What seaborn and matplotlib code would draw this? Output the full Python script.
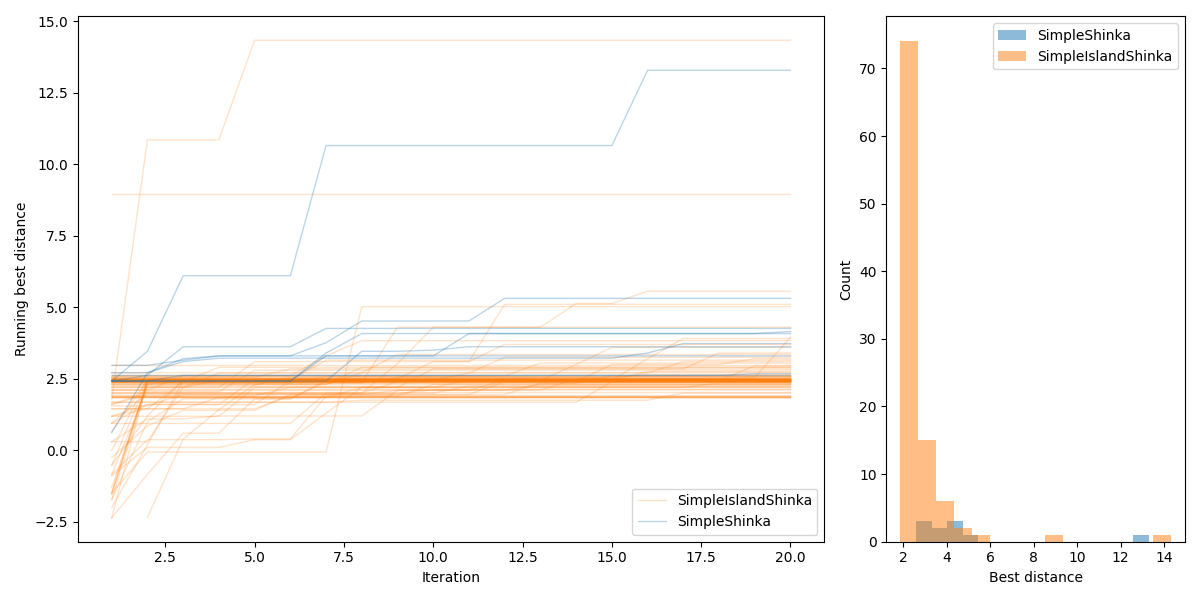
import matplotlib
matplotlib.use("Agg")
import numpy as np
import pandas as pd
import matplotlib.pyplot as plt
import seaborn as sns

ITERATIONS = list(range(1, 21))
METHODS = ["SimpleIslandShinka", "SimpleShinka"]

# Each run: list of (iteration, running-best value) at the iterations where it changes
ISLAND_RUNS = [
    [(1, 1.80), (2, 10.85), (5, 14.33)],
    [(1, 8.95)],
    [(1, -1.49), (2, -0.06), (8, 5.02)],
    [(1, 1.19), (2, 1.60), (5, 2.50), (10, 3.10), (12, 5.10)],
    [(1, 2.38), (9, 4.30), (14, 5.13), (16, 5.56)],
    [(1, 0.95), (2, 2.00), (9, 3.03), (10, 4.30)],
    [(1, 2.45), (16, 3.20), (17, 3.91)],
    [(1, 2.10), (3, 2.60), (7, 3.30), (8, 3.83)],
    [(1, 2.50), (19, 2.55), (20, 3.95)],
    [(1, 0.30), (3, 2.20), (5, 3.10), (12, 3.70)],
    [(1, 2.45), (14, 3.00), (15, 3.60)],
    [(1, 2.97)],
    [(1, 2.71), (9, 3.35)],
    [(1, -2.36), (2, 2.45), (7, 3.15)],
    [(2, -2.34), (3, 0.39), (4, 1.42), (5, 2.30), (8, 2.90)],
    [(1, 2.20), (4, 2.70), (12, 3.25)],
    [(1, 1.60), (2, 2.05), (5, 2.80)],
    [(1, 2.60), (13, 3.05)],
    [(1, -0.52), (2, 1.20), (3, 2.45), (16, 2.75)],
    [(1, 2.45), (11, 2.70), (17, 3.10)],
    [(1, 1.91), (6, 2.20), (10, 2.85), (18, 3.40)],
    [(1, 2.40), (4, 2.90)],
    [(1, -1.72), (2, 1.00), (3, 1.80), (7, 2.45), (19, 2.95)],
    [(1, 2.30), (8, 2.72)],
    [(1, 1.45), (3, 2.40), (15, 3.00), (19, 3.20)],
    [(1, 2.55), (6, 2.85)],
    [(1, 2.38)], [(1, 2.40)], [(1, 2.41)], [(1, 2.42)], [(1, 2.42)],
    [(1, 2.43)], [(1, 2.43)], [(1, 2.44)], [(1, 2.44)], [(1, 2.45)],
    [(1, 2.45)], [(1, 2.45)], [(1, 2.46)], [(1, 2.46)], [(1, 2.46)],
    [(1, 2.47)], [(1, 2.47)], [(1, 2.48)], [(1, 2.48)], [(1, 2.49)],
    [(1, 2.50)], [(1, 2.50)], [(1, 2.51)], [(1, 2.52)], [(1, 2.53)],
    [(1, 2.39)], [(1, 2.41)], [(1, 2.44)], [(1, 2.47)], [(1, 2.49)],
    [(1, -1.49), (2, 2.42)],
    [(1, -1.49), (2, 2.45)],
    [(1, -1.55), (2, 2.40), (10, 2.50)],
    [(1, -1.72), (2, 2.30), (3, 2.46)],
    [(1, -0.84), (2, 2.20), (4, 2.45)],
    [(1, -0.52), (2, 2.44)],
    [(1, -2.36), (2, -0.84), (3, 0.60), (5, 1.80), (7, 2.40)],
    [(1, 0.00), (2, 2.48)],
    [(1, 0.30), (2, 1.10), (4, 1.20), (9, 2.10), (12, 2.45)],
    [(1, 0.65), (2, 2.46)],
    [(1, -0.25), (2, 0.85), (3, 1.40), (6, 1.95), (12, 2.40)],
    [(1, 1.19), (5, 2.20), (11, 2.45)],
    [(1, -1.30), (2, 2.35), (9, 2.55)],
    [(1, -0.84), (2, 0.37), (5, 0.40), (7, 1.90), (10, 2.30)],
    [(1, 0.95), (2, 1.60), (6, 2.44)],
    [(1, -2.00), (2, 0.20), (3, 2.40)],
    [(1, 1.88)], [(1, 1.89)], [(1, 1.90)], [(1, 1.88)], [(1, 1.87)],
    [(1, 1.68), (15, 2.40)],
    [(1, 1.68), (8, 1.75), (17, 2.00)],
    [(1, 2.05)],
    [(1, 2.10), (13, 2.30)],
    [(1, 2.15)],
    [(1, 2.20), (18, 2.35)],
    [(1, 2.25)],
    [(1, 2.28), (6, 2.56)],
    [(1, 2.32)],
    [(1, 2.34), (15, 2.60)],
    [(1, 1.60), (2, 1.95), (9, 2.10), (14, 2.50)],
    [(1, 1.45), (4, 1.85), (8, 2.20)],
    [(1, 1.19), (2, 1.45), (6, 1.90)],
    [(1, 0.94), (6, 0.94), (7, 2.00), (9, 2.40)],
    [(1, 2.60)],
    [(1, 2.62)],
    [(1, 2.36), (7, 2.58)],
    [(1, 2.55), (16, 2.65)],
    [(1, 1.98), (10, 2.12)],
    [(1, 1.86)],
    [(1, 2.00), (11, 2.25)],
    [(1, 1.55), (3, 1.95), (13, 2.35)],
    [(1, -0.90), (2, 0.10), (4, 0.10), (5, 0.37), (7, 1.30), (8, 2.20)],
]

SIMPLE_RUNS = [
    [(1, 2.42), (2, 3.46), (3, 6.10), (7, 10.65), (16, 13.28)],
    [(1, 2.97), (3, 3.15), (4, 3.30), (7, 3.76), (8, 4.52), (12, 5.31)],
    [(1, 2.42), (2, 2.62), (3, 3.62), (7, 4.26)],
    [(1, 2.42), (7, 3.40), (8, 4.08), (20, 4.15)],
    [(1, 0.62), (2, 2.71), (3, 3.20), (4, 3.30), (11, 4.08)],
    [(1, 2.71), (3, 3.10), (4, 3.22), (16, 3.40), (17, 3.73)],
    [(1, 2.42), (8, 3.46), (10, 3.50), (11, 3.62)],
    [(1, 2.42), (7, 3.30)],
    [(1, 2.42), (3, 2.62), (19, 2.68)],
    [(1, 2.62)],
]

COLORS = {"SimpleShinka": "#1f77b4", "SimpleIslandShinka": "#ff7f0e"}
LINE_ALPHA = {"SimpleShinka": 0.3, "SimpleIslandShinka": 0.22}


def expand(runs, method):
    rows = []
    for k, pts in enumerate(runs):
        s = pd.Series(dict(pts), dtype=float).reindex(ITERATIONS).ffill().cummax()
        s = s[s.index >= pts[0][0]]
        for it, v in s.items():
            rows.append((method, k, it, v))
    return pd.DataFrame(rows, columns=["method", "run", "Iteration", "best"])


df = pd.concat([expand(ISLAND_RUNS, "SimpleIslandShinka"),
                expand(SIMPLE_RUNS, "SimpleShinka")], ignore_index=True)
finals = df.sort_values("Iteration").groupby(["method", "run"]).last().reset_index()

fig, (ax1, ax2) = plt.subplots(1, 2, figsize=(12, 6), dpi=100,
                               gridspec_kw={"width_ratios": [2.5, 1]})

for m in METHODS:
    sub = df[df["method"] == m]
    sns.lineplot(data=sub, x="Iteration", y="best", units="run", estimator=None,
                 color=COLORS[m], alpha=LINE_ALPHA[m], lw=1, label=m, ax=ax1,
                 legend=False)
h, l = ax1.get_legend_handles_labels()
uniq = {}
for hh, ll in zip(h, l):
    if ll not in uniq:
        uniq[ll] = hh
ax1.legend(list(uniq.values()), list(uniq.keys()), loc="lower right")
ax1.set_xlabel("Iteration")
ax1.set_ylabel("Running best distance")

for m in ["SimpleShinka", "SimpleIslandShinka"]:
    sns.histplot(finals.loc[finals["method"] == m, "best"], bins=15, color=COLORS[m],
                 alpha=0.5, linewidth=0, edgecolor="none", label=m, ax=ax2)
ax2.legend(loc="upper right")
ax2.set_xlabel("Best distance")
ax2.set_ylabel("Count")

fig.tight_layout()
fig.savefig("out.png", dpi=100)
